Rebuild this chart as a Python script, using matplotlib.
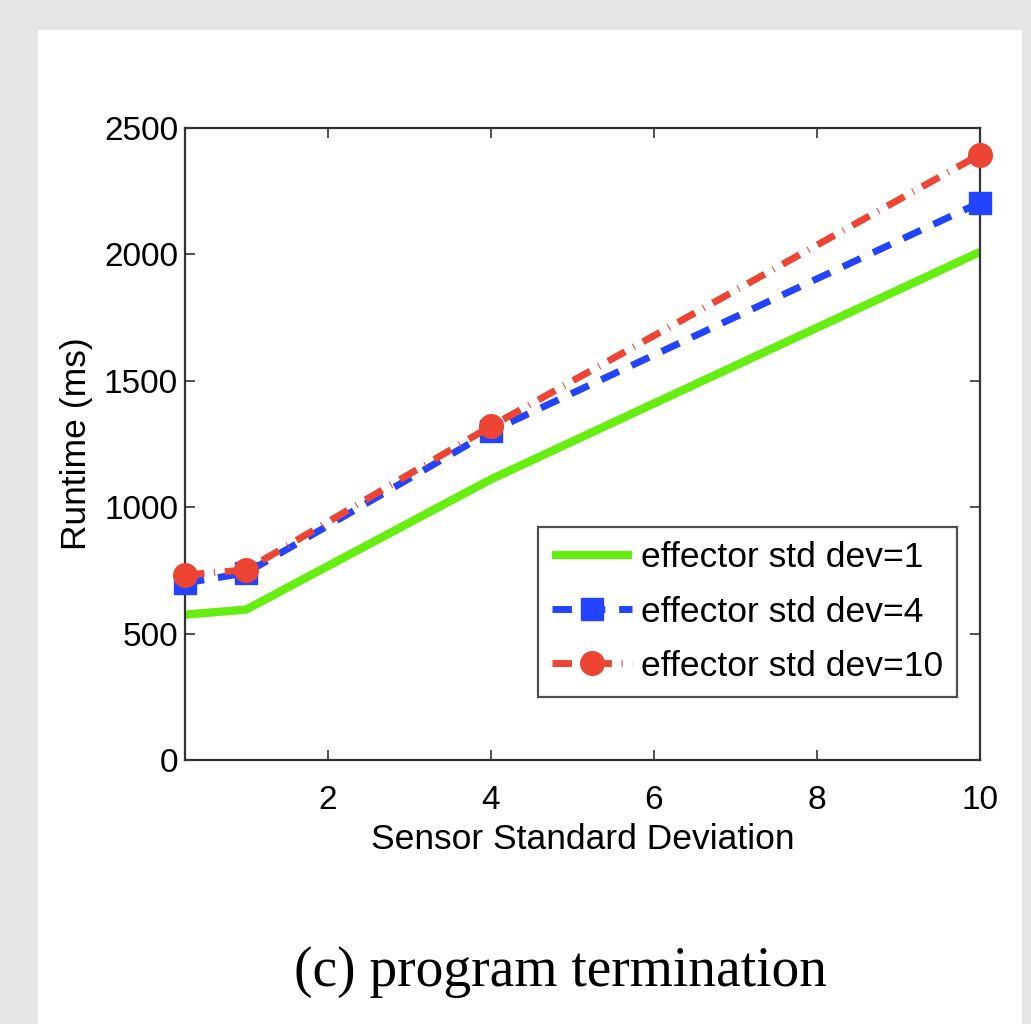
import matplotlib
matplotlib.use("Agg")
import matplotlib.pyplot as plt
from matplotlib.patches import Rectangle

sensor_std = [0.25, 1, 4, 10]
runtime_eff1 = [575, 595, 1110, 2010]
runtime_eff4 = [700, 740, 1300, 2205]
runtime_eff10 = [732, 752, 1320, 2395]
labels = ["effector std dev=1", "effector std dev=4", "effector std dev=10"]
xticks = [2, 4, 6, 8, 10]
yticks = [0, 500, 1000, 1500, 2000, 2500]

W, H = 1031, 1024
fig = plt.figure(figsize=(W / 100, H / 100), dpi=100, facecolor="#e5e5e5")
fig.patches.append(Rectangle((38 / W, 0), (1022 - 38) / W, 1 - 30 / H,
                             transform=fig.transFigure, facecolor="white",
                             edgecolor="none", zorder=-10))

ax = fig.add_axes([185 / W, 1 - 760 / H, (980 - 185) / W, (760 - 128) / H])
ax.set_zorder(5)
ax.set_facecolor("white")

green = "#66ee11"
blue = "#2244ff"
red = "#ee4433"

ax.plot(sensor_std, runtime_eff1, color=green, lw=6, solid_capstyle="butt",
        label=labels[0], zorder=2)
ax.plot(sensor_std, runtime_eff4, color=blue, lw=5, dashes=(2.8, 2.0),
        marker="s", ms=16, mec=blue, mfc=blue, label=labels[1], zorder=3,
        clip_on=False)
ax.plot(sensor_std, runtime_eff10, color=red, lw=5, dashes=(2.8, 1.4, 0.15, 1.4),
        marker="o", ms=17, mec=red, mfc=red, label=labels[2], zorder=4,
        clip_on=False)

ax.set_xlim(0.25, 10)
ax.set_ylim(0, 2500)
ax.set_xticks(xticks)
ax.set_yticks(yticks)

tickfont = "Liberation Sans"
for lab in ax.get_xticklabels() + ax.get_yticklabels():
    lab.set_fontfamily(tickfont)
ax.tick_params(direction="in", top=True, right=True, length=7, width=1.2,
               labelsize=24, color="#333333")
ax.tick_params(axis="x", pad=18)
ax.tick_params(axis="y", pad=5)
for s in ax.spines.values():
    s.set_linewidth(1.6)
    s.set_color("#333333")

ax.set_xlabel("Sensor Standard Deviation", fontsize=25.5, family=tickfont, labelpad=5)
ax.set_ylabel("Runtime (ms)", fontsize=25.5, family=tickfont, labelpad=8)

leg = ax.legend(loc="lower right", bbox_to_anchor=((957 - 185) / 795, (760 - 697) / 632),
                prop={"family": tickfont, "size": 25.5}, frameon=True, fancybox=False,
                edgecolor="#222222", handlelength=2.25, handletextpad=0.25,
                borderpad=0.4, labelspacing=0.6, borderaxespad=0)
leg.get_frame().set_linewidth(1.6)

fig.text(560 / W, 1 - 972 / H, "(c) program termination", ha="center", va="center",
         fontsize=40, family="Liberation Serif")

fig.savefig("out.png", dpi=100, facecolor=fig.get_facecolor())
